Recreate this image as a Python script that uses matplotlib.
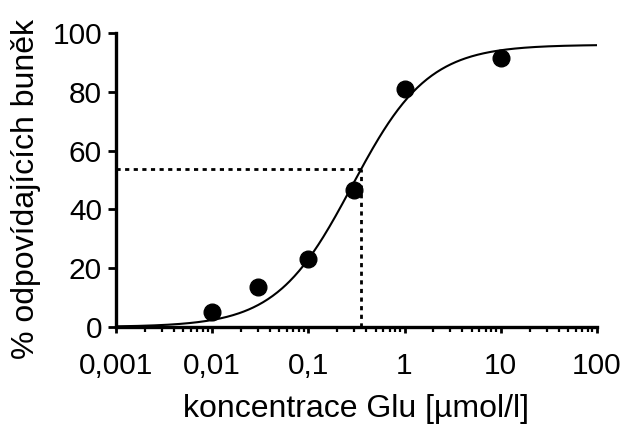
import matplotlib
matplotlib.use("Agg")
import matplotlib.pyplot as plt
import numpy as np

plt.rcParams['font.family'] = ['Liberation Sans', 'DejaVu Sans']

# measured points
conc = [0.01, 0.03, 0.1, 0.3, 1, 10]
resp = [5, 13.7, 23, 46.5, 81, 91.5]

# fitted Hill curve
top = 96.0
ec50 = 0.285
hill = 1.1
ref_x = 0.35
ref_y = 53.8

xticks = [0.001, 0.01, 0.1, 1, 10, 100]
xticklabels = ['0,001', '0,01', '0,1', '1', '10', '100']
yticks = [0, 20, 40, 60, 80, 100]

fig = plt.figure(figsize=(6.25, 4.24), dpi=100)
ax = fig.add_axes([0.1856, 0.2290, 0.7694, 0.6932])

xx = np.logspace(-3, 2, 400)
yy = top / (1 + (ec50 / xx) ** hill)
ax.plot(xx, yy, color='black', lw=1.5)
ax.plot(conc, resp, 'o', color='black', ms=12)

ax.plot([0.001, ref_x], [ref_y, ref_y], color='black', lw=2, linestyle=(0, (1.5, 1.6)))
ax.plot([ref_x, ref_x], [0, ref_y], color='black', lw=2, linestyle=(0, (1.5, 1.6)))

ax.set_xscale('log')
ax.set_xlim(0.001, 100)
ax.set_ylim(0, 100)
ax.set_xticks(xticks)
ax.set_xticklabels(xticklabels)
ax.set_yticks(yticks)
ax.xaxis.set_minor_locator(matplotlib.ticker.LogLocator(base=10, subs=np.arange(2, 10)))
ax.xaxis.set_minor_formatter(matplotlib.ticker.NullFormatter())

for s in ['top', 'right']:
    ax.spines[s].set_visible(False)
for s in ['left', 'bottom']:
    ax.spines[s].set_linewidth(2.4)

ax.tick_params(axis='y', which='major', labelsize=21.5, width=2, length=6, direction='out', pad=4)
ax.tick_params(axis='x', which='major', labelsize=21.5, width=2, length=4, direction='out', pad=14)
ax.tick_params(axis='x', which='minor', width=1.6, length=3.5, direction='out')

ax.set_xlabel('koncentrace Glu [µmol/l]', fontsize=23, labelpad=10)
ax.set_ylabel('% odpovídajících buněk', fontsize=23)
ax.yaxis.set_label_coords(-0.155, 0.47)

fig.savefig('out.png', dpi=100)
